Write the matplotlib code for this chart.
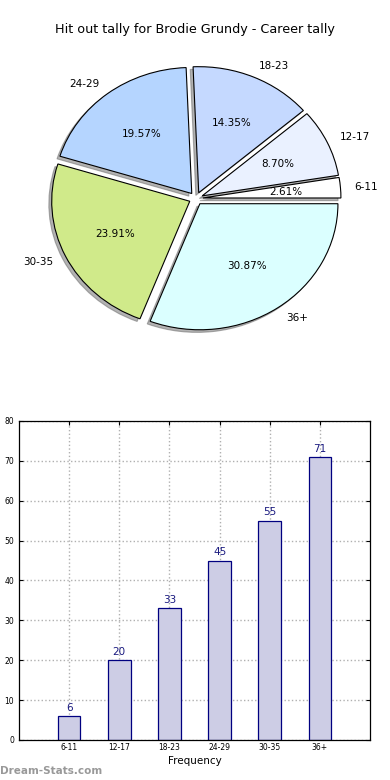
import matplotlib
matplotlib.use('Agg')
import matplotlib.pyplot as plt
import numpy as np

# Data
labels = ['6-11', '12-17', '18-23', '24-29', '30-35', '36+']
counts = [6, 20, 33, 45, 55, 71]
pie_colors = ['#ffffff', '#eaf1ff', '#c5d9ff', '#b5d5ff', '#d0ea8a', '#dbffff']
explode = [0.05] * len(counts)

fig = plt.figure(figsize=(3.9, 7.8), dpi=100)

# Pie chart (top)
ax1 = fig.add_axes([0.06, 0.5435, 0.885, 0.404])
ax1.pie(counts, labels=labels, colors=pie_colors, explode=explode,
        autopct='%1.2f%%', startangle=0,
        shadow={'ox': -0.015, 'oy': -0.015, 'facecolor': '#666666', 'edgecolor': '#666666'},
        wedgeprops={'edgecolor': 'black', 'linewidth': 0.8},
        textprops={'fontsize': 7.5})
ax1.set_aspect('auto')
fig.text(0.5, 1 - 30 / 780, 'Hit out tally for Brodie Grundy - Career tally',
         ha='center', va='center', fontsize=9.2)

# Bar chart (bottom)
ax2 = fig.add_axes([0.0487, 0.0513, 0.9, 0.409])
x = np.arange(len(labels))
ax2.bar(x, counts, width=0.45, color='#cdcde5', edgecolor='#000080', linewidth=0.9, zorder=2)
for xi, c in zip(x, counts):
    ax2.text(xi, c + 0.8, str(c), ha='center', va='bottom', fontsize=7.5, color='#1a1a80', zorder=3)

ax2.set_xlim(-1, 6)
ax2.set_ylim(0, 80)
ax2.set_xticks(x)
ax2.set_xticklabels(labels, fontsize=5.5)
ax2.set_yticks(np.arange(0, 81, 10))
ax2.tick_params(axis='y', labelsize=5.5, direction='in', right=True, length=3)
ax2.tick_params(axis='x', direction='in', top=True, length=3, pad=2)
ax2.grid(True, linestyle=':', color='#b0b0b0', linewidth=1, zorder=0)
ax2.set_axisbelow(True)
ax2.set_xlabel('Frequency', fontsize=7.5, labelpad=3)
for s in ax2.spines.values():
    s.set_linewidth(0.9)

fig.text(0.0, 1 - 771 / 780, 'Dream-Stats.com', ha='left', va='center',
         fontsize=7.5, color='#999999', fontweight='bold')

plt.savefig('out.png', dpi=100)
